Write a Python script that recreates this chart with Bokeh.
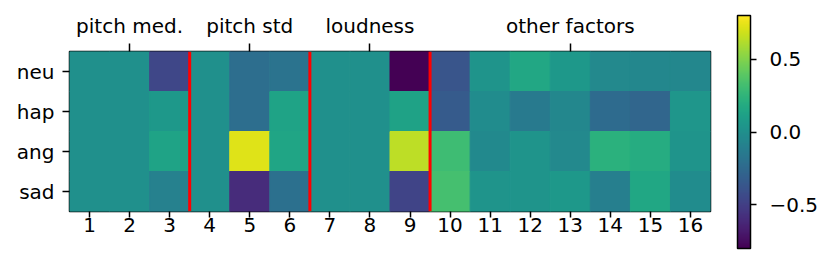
from bokeh.plotting import figure
from bokeh.models import (ColumnDataSource, LinearColorMapper, ColorBar, FixedTicker,
                          LinearAxis, Span, Range1d, PrintfTickFormatter)
from bokeh.transform import transform
from bokeh.palettes import Viridis256
from bokeh.embed import file_html
from bokeh.resources import INLINE

emotions = ["neu", "hap", "ang", "sad"]
factors = list(range(1, 17))
neu = [0.0, 0.0, -0.46, 0.0, -0.22, -0.19, 0.0, 0.0, -0.80, -0.38, 0.03, 0.16, 0.05, -0.05, -0.06, -0.06]
hap = [0.0, 0.0, 0.05, 0.0, -0.22, 0.13, 0.0, 0.0, 0.12, -0.34, -0.02, -0.14, -0.06, -0.24, -0.27, 0.04]
ang = [0.0, 0.0, 0.13, 0.0, 0.72, 0.14, 0.0, 0.0, 0.64, 0.30, -0.04, 0.03, -0.05, 0.22, 0.19, 0.03]
sad = [0.0, 0.0, -0.10, 0.0, -0.60, -0.21, 0.0, 0.0, -0.47, 0.33, 0.03, 0.03, 0.05, -0.11, 0.15, -0.02]
group_labels = ["pitch med.", "pitch std", "loudness", "other factors"]
group_centers = [2, 5, 8, 13]
group_bounds = [3.5, 6.5, 9.5]
vmin, vmax = -0.8, 0.8
cbar_ticks = [-0.5, 0.0, 0.5]

rows = {"neu": neu, "hap": hap, "ang": ang, "sad": sad}
xs, ys, vs = [], [], []
for emo in emotions:
    for f, v in zip(factors, rows[emo]):
        xs.append(f)
        ys.append(emo)
        vs.append(v)
source = ColumnDataSource(dict(x=xs, y=ys, v=vs))

FONT = "DejaVu Sans"
FS = "20px"

p = figure(width=821, height=255, x_range=Range1d(0.5, 16.5),
           y_range=list(reversed(emotions)),
           output_backend="svg", toolbar_location=None, tools="",
           min_border_left=69, min_border_right=110, min_border_top=51, min_border_bottom=44)
p.grid.visible = False
p.outline_line_color = "black"
p.outline_line_width = 1.5

mapper = LinearColorMapper(palette=Viridis256, low=vmin, high=vmax)
p.rect(x="x", y="y", width=1, height=1, source=source,
       fill_color=transform("v", mapper), line_color=transform("v", mapper), line_width=1)

for b in group_bounds:
    p.add_layout(Span(location=b, dimension="height", line_color="red", line_width=3))

xa = p.xaxis[0]
xa.ticker = FixedTicker(ticks=factors)
ya = p.yaxis[0]
for ax in (xa, ya):
    ax.axis_line_color = None
    ax.major_tick_in = 0
    ax.major_tick_out = 7
    ax.major_tick_line_width = 1.5
    ax.minor_tick_line_color = None
    ax.major_label_text_font = FONT
    ax.major_label_text_font_size = FS
    ax.major_label_text_color = "black"
xa.major_tick_out = 6
xa.major_label_standoff = 0
ya.major_label_standoff = 8

top = LinearAxis(ticker=FixedTicker(ticks=group_centers),
                 major_label_overrides={c: l for c, l in zip(group_centers, group_labels)})
top.axis_line_color = None
top.major_tick_in = 0
top.major_tick_out = 8
top.major_tick_line_width = 1.5
top.minor_tick_line_color = None
top.major_label_text_font = FONT
top.major_label_text_font_size = FS
top.major_label_text_color = "black"
top.major_label_standoff = 6
p.add_layout(top, "above")

cb = ColorBar(color_mapper=mapper, width=13, height=233, location=(27, -37),
              ticker=FixedTicker(ticks=cbar_ticks),
              formatter=PrintfTickFormatter(format="%.1f"),
              major_label_overrides={-0.5: "\u22120.5"},
              major_tick_in=0, major_tick_out=6, major_tick_line_color="black",
              major_tick_line_width=1.5,
              bar_line_color="black", bar_line_width=1.5,
              label_standoff=13, margin=0, padding=0,
              background_fill_alpha=0,
              major_label_text_font=FONT, major_label_text_font_size=FS,
              major_label_text_color="black")
p.add_layout(cb, "right")

open("out.html", "w").write(file_html(p, INLINE))
